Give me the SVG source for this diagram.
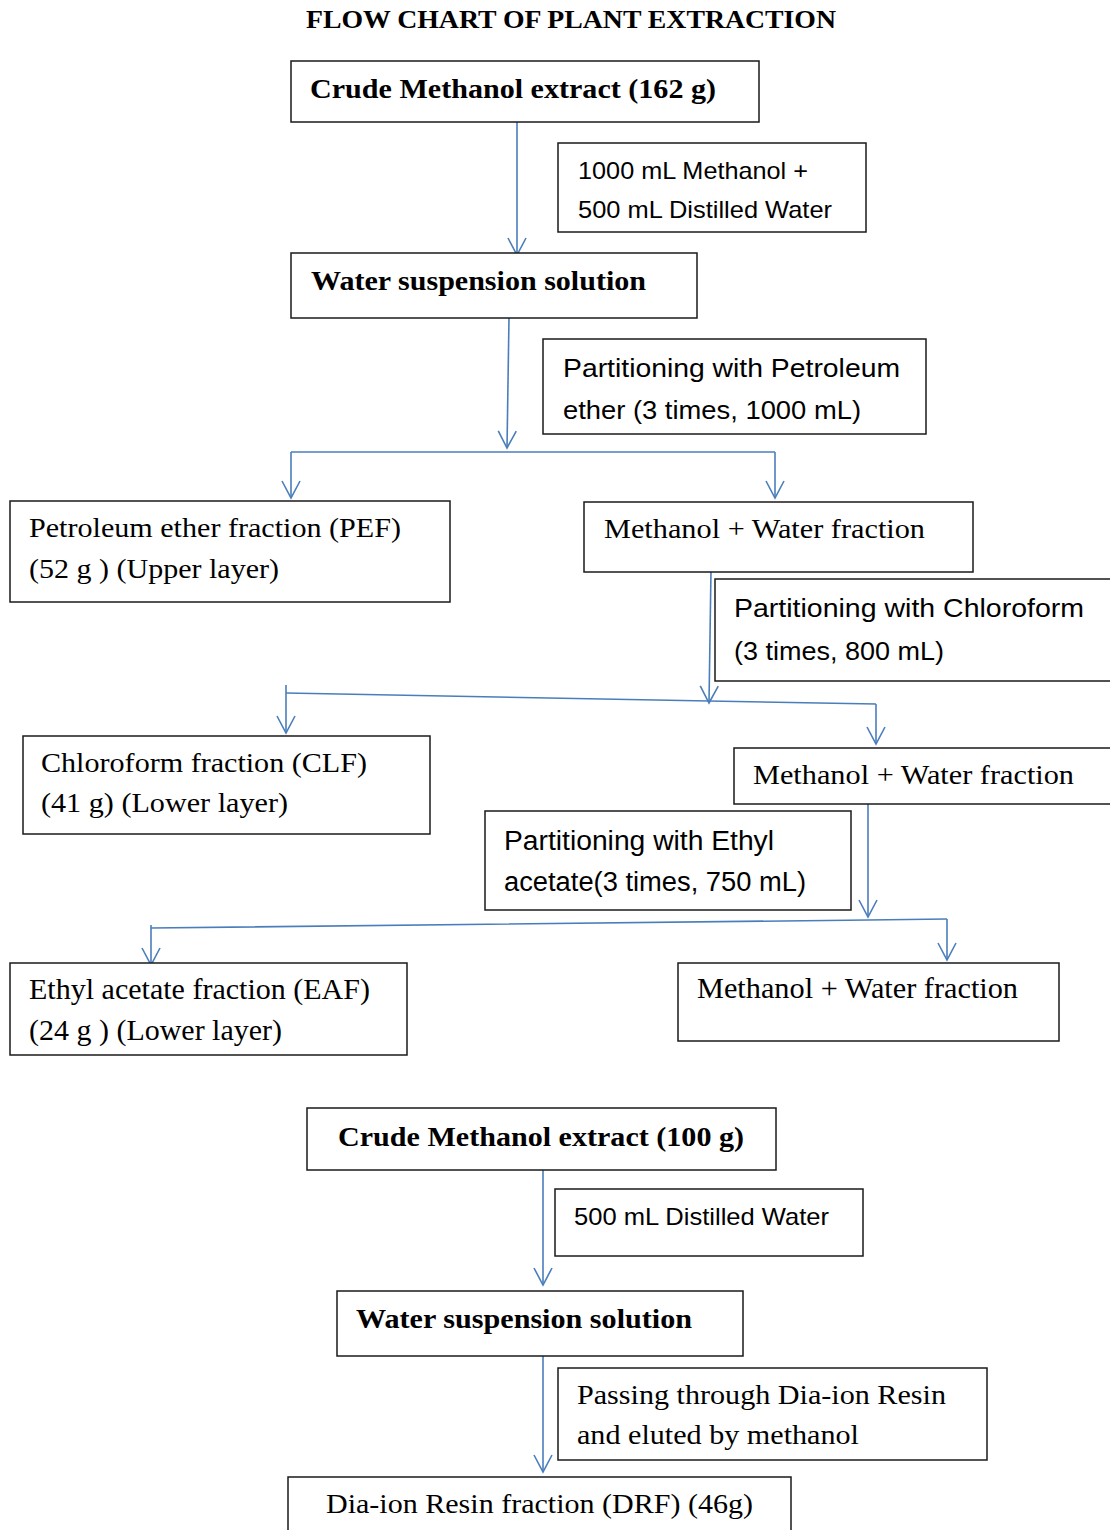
<svg xmlns="http://www.w3.org/2000/svg" width="1110" height="1530" viewBox="0 0 1110 1530">
<style>
.box{fill:#fff;stroke:#1a1a1a;stroke-width:1.5}
.c{fill:none;stroke:#4a7ebb;stroke-width:1.6}
.t{font-family:"Liberation Serif","Times New Roman",serif;font-size:28px;fill:#000}
.b{font-family:"Liberation Serif","Times New Roman",serif;font-size:28px;font-weight:bold;fill:#000}
.s{font-family:"Liberation Sans",Arial,sans-serif;font-size:24px;fill:#000}
</style>
<defs>
<marker id="a" markerWidth="22" markerHeight="22" refX="19" refY="11" orient="auto" markerUnits="userSpaceOnUse" viewBox="0 0 22 22">
<path d="M2,2 L19,11 L2,20" fill="none" stroke="#4a7ebb" stroke-width="1.6"/>
</marker>
</defs>
<rect width="1110" height="1530" fill="#fff"/>
<text x="306" y="28" class="b" style="font-size:25px" textLength="530" lengthAdjust="spacingAndGlyphs">FLOW CHART OF PLANT EXTRACTION</text>

<g id="connectors">
<path class="c" d="M517,120 L517,255" marker-end="url(#a)"/>
<path class="c" d="M509,317 L507,448" marker-end="url(#a)"/>
<path class="c" d="M291,452 L775,452"/>
<path class="c" d="M291,452 L291,498" marker-end="url(#a)"/>
<path class="c" d="M775,452 L775,498" marker-end="url(#a)"/>
<path class="c" d="M711,570 L709,703" marker-end="url(#a)"/>
<path class="c" d="M286,693 L709,701 L876,704"/>
<path class="c" d="M286,685 L286,733" marker-end="url(#a)"/>
<path class="c" d="M876,704 L876,744" marker-end="url(#a)"/>
<path class="c" d="M868,803 L868,917" marker-end="url(#a)"/>
<path class="c" d="M151,928 L868,920 L947,919"/>
<path class="c" d="M151,925 L151,965" marker-end="url(#a)"/>
<path class="c" d="M947,919 L947,960" marker-end="url(#a)"/>
<path class="c" d="M543,1170 L543,1285" marker-end="url(#a)"/>
<path class="c" d="M543,1356 L543,1472" marker-end="url(#a)"/>
</g>

<g id="n1"><rect class="box" x="291" y="61" width="468" height="61"/>
<text class="b" x="310" y="98" textLength="406" lengthAdjust="spacingAndGlyphs">Crude Methanol extract (162 g)</text></g>
<g id="n2"><rect class="box" x="558" y="143" width="308" height="89"/>
<text class="s" x="578" y="179" textLength="230" lengthAdjust="spacingAndGlyphs">1000 mL Methanol +</text>
<text class="s" x="578" y="218" textLength="254" lengthAdjust="spacingAndGlyphs">500 mL Distilled Water</text></g>
<g id="n3"><rect class="box" x="291" y="253" width="406" height="65"/>
<text class="b" x="311" y="290" textLength="335" lengthAdjust="spacingAndGlyphs">Water suspension solution</text></g>
<g id="n4"><rect class="box" x="543" y="339" width="383" height="95"/>
<text class="s" x="563" y="377" style="font-size:26px" textLength="337" lengthAdjust="spacingAndGlyphs">Partitioning with Petroleum</text>
<text class="s" x="563" y="419" style="font-size:26px" textLength="298" lengthAdjust="spacingAndGlyphs">ether (3 times, 1000 mL)</text></g>
<g id="n5"><rect class="box" x="10" y="501" width="440" height="101"/>
<text class="t" x="29" y="537" textLength="372" lengthAdjust="spacingAndGlyphs">Petroleum ether fraction (PEF)</text>
<text class="t" x="29" y="578" textLength="250" lengthAdjust="spacingAndGlyphs">(52 g ) (Upper layer)</text></g>
<g id="n6"><rect class="box" x="584" y="502" width="389" height="70"/>
<text class="t" x="604" y="538" textLength="321" lengthAdjust="spacingAndGlyphs">Methanol + Water fraction</text></g>
<g id="n7"><rect class="box" x="715" y="579" width="400" height="102"/>
<text class="s" x="734" y="617" style="font-size:26px" textLength="350" lengthAdjust="spacingAndGlyphs">Partitioning with Chloroform</text>
<text class="s" x="734" y="660" style="font-size:26px" textLength="210" lengthAdjust="spacingAndGlyphs">(3 times, 800 mL)</text></g>
<g id="n8"><rect class="box" x="23" y="736" width="407" height="98"/>
<text class="t" x="41" y="772" textLength="326" lengthAdjust="spacingAndGlyphs">Chloroform fraction (CLF)</text>
<text class="t" x="41" y="812" textLength="247" lengthAdjust="spacingAndGlyphs">(41 g) (Lower layer)</text></g>
<g id="n9"><rect class="box" x="734" y="748" width="380" height="56"/>
<text class="t" x="753" y="784" textLength="321" lengthAdjust="spacingAndGlyphs">Methanol + Water fraction</text></g>
<g id="n10"><rect class="box" x="485" y="811" width="366" height="99"/>
<text class="s" x="504" y="850" style="font-size:27px" textLength="270" lengthAdjust="spacingAndGlyphs">Partitioning with Ethyl</text>
<text class="s" x="504" y="891" style="font-size:27px" textLength="302" lengthAdjust="spacingAndGlyphs">acetate(3 times, 750 mL)</text></g>
<g id="n11"><rect class="box" x="10" y="963" width="397" height="92"/>
<text class="t" x="29" y="999" style="font-size:29px" textLength="341" lengthAdjust="spacingAndGlyphs">Ethyl acetate fraction (EAF)</text>
<text class="t" x="29" y="1040" style="font-size:29px" textLength="253" lengthAdjust="spacingAndGlyphs">(24 g ) (Lower layer)</text></g>
<g id="n12"><rect class="box" x="678" y="963" width="381" height="78"/>
<text class="t" x="697" y="998" style="font-size:29px" textLength="321" lengthAdjust="spacingAndGlyphs">Methanol + Water fraction</text></g>
<g id="n13"><rect class="box" x="307" y="1108" width="469" height="62"/>
<text class="b" x="338" y="1146" textLength="406" lengthAdjust="spacingAndGlyphs">Crude Methanol extract (100 g)</text></g>
<g id="n14"><rect class="box" x="555" y="1189" width="308" height="67"/>
<text class="s" x="574" y="1225" textLength="255" lengthAdjust="spacingAndGlyphs">500 mL Distilled Water</text></g>
<g id="n15"><rect class="box" x="337" y="1291" width="406" height="65"/>
<text class="b" x="356" y="1328" textLength="336" lengthAdjust="spacingAndGlyphs">Water suspension solution</text></g>
<g id="n16"><rect class="box" x="558" y="1368" width="429" height="92"/>
<text class="t" x="577" y="1404" textLength="369" lengthAdjust="spacingAndGlyphs">Passing through Dia-ion Resin</text>
<text class="t" x="577" y="1444" textLength="282" lengthAdjust="spacingAndGlyphs">and eluted by methanol</text></g>
<g id="n17"><rect class="box" x="288" y="1477" width="503" height="60"/>
<text class="t" x="326" y="1513" textLength="427" lengthAdjust="spacingAndGlyphs">Dia-ion Resin fraction (DRF) (46g)</text></g>
</svg>
